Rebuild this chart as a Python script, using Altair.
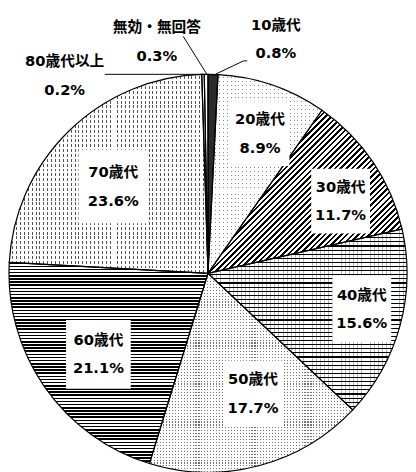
import math
import altair as alt
import pandas as pd

# ---- data ----
categories = ["10歳代", "20歳代", "30歳代", "40歳代", "50歳代", "60歳代", "70歳代", "80歳代以上", "無効・無回答"]
values = [0.8, 8.9, 11.7, 15.6, 17.7, 21.1, 23.6, 0.2, 0.3]
pct_labels = ["0.8%", "8.9%", "11.7%", "15.6%", "17.7%", "21.1%", "23.6%", "0.2%", "0.3%"]

# ---- label layout (degrees shift from slice middle, radius px, box size) ----
label_shift = [14.7, 1.5, 5.4, -2.2, -5.7, -1.6, -3.2, -34.5, -11.9]
label_radius = [249, 152, 154, 161, 131, 139, 131, 249, 242]
box_w = [0, 60, 60, 60, 60, 66, 71, 0, 0]
box_h = [0, 66, 66, 68, 67, 70, 75, 0, 0]

# leader lines (annotation segments)
lead_x1 = [212.0, 240.3, 178.7, 98.7]
lead_y1 = [62.7, 49.3, 24.3, 63.0]
lead_x2 = [240.3, 244.0, 202.7, 199.0]
lead_y2 = [49.3, 49.3, 62.7, 63.0]

W, H = 408, 464
CX, CY, R = 204, 266, 203
TOTAL = round(sum(values), 4)
FONT = "DejaVu Sans, Noto Sans CJK JP, sans-serif"
CLEAR = "rgba(255,255,255,0)"

df = pd.DataFrame({
    "cat": categories,
    "value": values,
    "pct": pct_labels,
    "order": list(range(len(categories))),
    "shift": label_shift,
    "lrad": label_radius,
    "bw": box_w,
    "bh": box_h,
})


def slice_bbox(i):
    a0 = sum(values[:i]) / TOTAL * 360
    a1 = a0 + values[i] / TOTAL * 360
    angs = [a0, a1] + [a for a in (0, 90, 180, 270, 360) if a0 < a < a1]
    pts = [(0.0, 0.0)]
    for a in angs:
        r = math.radians(a)
        pts.append((R * math.sin(r), -R * math.cos(r)))
    xs = [p[0] for p in pts]
    ys = [p[1] for p in pts]
    return max(xs) - min(xs), max(ys) - min(ys)


def stripes(n, frac, on, off, x2, y2):
    n = max(1, int(round(n)))
    stops = []
    for k in range(n):
        a = round(k / n, 5)
        b = round((k + frac) / n, 5)
        c = round((k + 1) / n, 5)
        stops += [
            {"offset": a, "color": on},
            {"offset": b, "color": on},
            {"offset": b, "color": off},
            {"offset": c, "color": off},
        ]
    return {"gradient": "linear", "x1": 0, "y1": 0, "x2": round(x2, 5), "y2": round(y2, 5), "stops": stops}


def horiz(i, period, frac, on, off):
    bw, bh = slice_bbox(i)
    return stripes(bh / period, frac, on, off, 0, 1)


def vert(i, period, frac, on, off):
    bw, bh = slice_bbox(i)
    return stripes(bw / period, frac, on, off, 1, 0)


def diag45(i, n, frac, on, off):
    # stripes at 45 degrees on screen ("/"), gradient spans the whole bbox
    bw, bh = slice_bbox(i)
    k = bh / bw
    x2 = (1 + k) / (1 + k * k)
    return stripes(n, frac, on, off, x2, k * x2)


base_colors = ["#2b2b2b", "#8a8a8a", "#ffffff", "#ffffff", "#707070",
               "#ffffff", "#555555", "#ffffff", "#ffffff"]

overlays = [
    (1, horiz(1, 4.0, 0.75, "white", CLEAR)),
    (1, vert(1, 4.0, 0.75, "white", CLEAR)),
    (2, diag45(2, 64, 0.45, "black", "white")),
    (3, horiz(3, 4.2, 0.28, "black", CLEAR)),
    (3, vert(3, 4.2, 0.22, "rgba(0,0,0,0.3)", CLEAR)),
    (4, horiz(4, 3.0, 0.62, "white", CLEAR)),
    (4, vert(4, 3.0, 0.62, "white", CLEAR)),
    (5, stripes(64, 0.5, "black", "white", 0, 1)),
    (6, vert(6, 4.0, 0.75, "white", CLEAR)),
    (6, horiz(6, 5.0, 0.4, "white", CLEAR)),
]

base = alt.Chart(df).transform_stack(
    stack="value", groupby=[], as_=["start", "end"],
    sort=[alt.SortField(field="order", order="ascending")],
)

theta = alt.Theta("start:Q", scale=alt.Scale(domain=[0, TOTAL]))
theta2 = alt.Theta2("end:Q")

pie = base.mark_arc(radius=R).encode(
    theta=theta, theta2=theta2,
    x=alt.value(CX), y=alt.value(CY),
    fill=alt.Fill("cat:N", scale=alt.Scale(domain=categories, range=base_colors), legend=None),
)

layers = [pie]
for idx, grad in overlays:
    layers.append(
        base.transform_filter(f"datum.order == {idx}").mark_arc(radius=R, fill=grad).encode(
            theta=theta, theta2=theta2, x=alt.value(CX), y=alt.value(CY)
        )
    )

outline = base.mark_arc(radius=R, fillOpacity=0, stroke="black", strokeWidth=1.2).encode(
    theta=theta, theta2=theta2, x=alt.value(CX), y=alt.value(CY)
)
layers.append(outline)

lab = base.transform_calculate(
    ang=f"2*PI*((datum.start+datum.end)/2)/{TOTAL} + datum.shift*PI/180"
).transform_calculate(
    px=f"{CX} + datum.lrad*sin(datum.ang)",
    py=f"{CY} - datum.lrad*cos(datum.ang)",
)

boxes = lab.transform_filter("datum.bw > 0").transform_calculate(
    bx1="datum.px - datum.bw/2", bx2="datum.px + datum.bw/2",
    by1="datum.py - datum.bh/2", by2="datum.py + datum.bh/2",
).mark_rect(fill="white").encode(
    x=alt.X("bx1:Q", scale=None), x2="bx2:Q",
    y=alt.Y("by1:Q", scale=None), y2="by2:Q",
)
layers.append(boxes)

leaders_df = pd.DataFrame({"x1": lead_x1, "y1": lead_y1, "x2": lead_x2, "y2": lead_y2})
leaders = alt.Chart(leaders_df).mark_rule(color="black", strokeWidth=1).encode(
    x=alt.X("x1:Q", scale=None), y=alt.Y("y1:Q", scale=None),
    x2="x2:Q", y2="y2:Q",
)
layers.append(leaders)

name_text = lab.mark_text(font=FONT, fontSize=15, fontWeight="bold", color="black",
                          align="center", baseline="middle", dy=-14.5).encode(
    x=alt.X("px:Q", scale=None), y=alt.Y("py:Q", scale=None), text="cat:N"
)
pct_text = lab.mark_text(font=FONT, fontSize=15, fontWeight="bold", color="black",
                         align="center", baseline="middle", dy=14.5).encode(
    x=alt.X("px:Q", scale=None), y=alt.Y("py:Q", scale=None), text="pct:N"
)
layers += [name_text, pct_text]

chart = alt.layer(*layers).properties(
    width=W, height=H,
    autosize=alt.AutoSizeParams(type="none"),
    padding=0,
).configure_view(stroke=None)

chart.save("out.html", embed_options={"renderer": "svg", "actions": False})
